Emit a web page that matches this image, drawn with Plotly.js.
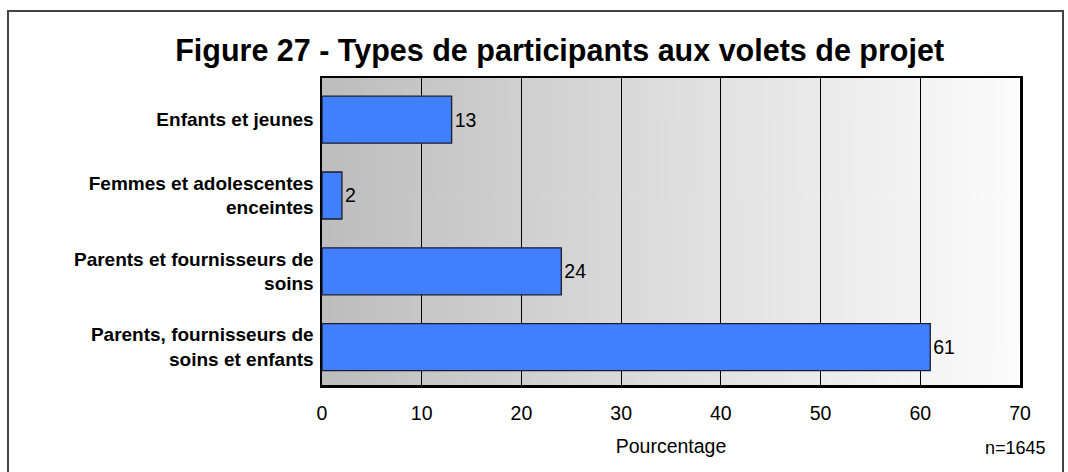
<!DOCTYPE html>
<html>
<head>
<meta charset="utf-8">
<script src="https://cdn.plot.ly/plotly-3.0.1.min.js"></script>
<style>
  html, body { margin: 0; padding: 0; background: #fff; }
  #wrap { position: relative; width: 1068px; height: 472px; overflow: hidden; }
  #chart { width: 1068px; height: 472px; }
  #frame { position: absolute; left: 7px; top: 10px; width: 1057px; height: 520px;
           border: 2px solid #444; box-sizing: border-box; pointer-events: none; }
</style>
</head>
<body>
<div id="wrap">
  <div id="chart"></div>
  <div id="frame"></div>
</div>
<script>
const categories = [
  "Enfants et jeunes",
  "Femmes et adolescentes<br>enceintes",
  "Parents et fournisseurs de<br>soins",
  "Parents, fournisseurs de<br>soins et enfants"
];
const values = [13, 2, 24, 61];
const xTicks = [0, 10, 20, 30, 40, 50, 60, 70];
const titleText = "Figure 27 - Types de participants aux volets de projet";
const xTitle = "Pourcentage";
const noteText = "n=1645";

// gradient background image
const cv = document.createElement('canvas');
cv.width = 512; cv.height = 4;
const ctx = cv.getContext('2d');
const g = ctx.createLinearGradient(0, 0, 512, 0);
g.addColorStop(0, '#bdbdbd');
g.addColorStop(0.5, '#dedede');
g.addColorStop(1, '#fcfcfc');
ctx.fillStyle = g;
ctx.fillRect(0, 0, 512, 4);
const bgUrl = cv.toDataURL();

const FONT = "Arial, 'Liberation Sans', sans-serif";

const trace = {
  type: 'bar',
  orientation: 'h',
  x: values,
  y: categories,
  width: 0.62,
  marker: { color: '#4080ff', line: { color: '#1c1c2c', width: 1.3 } },
  text: values.map(String),
  textposition: 'outside',
  textfont: { family: FONT, size: 19.5, color: '#000' },
  cliponaxis: false,
  hoverinfo: 'none'
};

const layout = {
  width: 1068, height: 472,
  margin: { l: 322, r: 48, t: 78, b: 87, pad: 0 },
  paper_bgcolor: '#ffffff',
  plot_bgcolor: 'rgba(0,0,0,0)',
  showlegend: false,
  font: { family: FONT, color: '#000' },
  title: {
    text: '<b>' + titleText + '</b>',
    font: { family: FONT, size: 30.5, color: '#000' },
    x: 0.524, xref: 'container', xanchor: 'center',
    y: 1 - 50 / 472, yref: 'container', yanchor: 'middle'
  },
  xaxis: {
    range: [0, 70],
    tickvals: xTicks,
    ticktext: xTicks.map(String),
    showgrid: true, gridcolor: '#000', gridwidth: 1,
    zeroline: false,
    showline: true, linecolor: '#000', linewidth: 2.5, mirror: true,
    ticks: '', ticklabelstandoff: 9,
    tickfont: { family: FONT, size: 19.5, color: '#000' },
    title: { text: xTitle, font: { family: FONT, size: 19.5, color: '#000' }, standoff: 17 },
    fixedrange: true
  },
  yaxis: {
    range: [3.5, -0.55],
    showgrid: false, zeroline: false,
    showline: true, linecolor: '#000', linewidth: 2.5, mirror: true,
    ticks: '', ticklabelstandoff: 2,
    tickfont: { family: FONT, size: 19, color: '#000', weight: 'bold' },
    fixedrange: true
  },
  images: [{
    source: bgUrl, xref: 'paper', yref: 'paper',
    x: 0, y: 1, sizex: 1, sizey: 1, sizing: 'stretch',
    xanchor: 'left', yanchor: 'top', layer: 'below'
  }],
  annotations: [{
    text: noteText, xref: 'paper', yref: 'paper',
    x: 1.040, y: -0.205, xanchor: 'right', yanchor: 'middle',
    showarrow: false, font: { family: FONT, size: 18, color: '#000' }
  }]
};

Plotly.newPlot('chart', [trace], layout, { staticPlot: true, displayModeBar: false });
</script>
</body>
</html>
